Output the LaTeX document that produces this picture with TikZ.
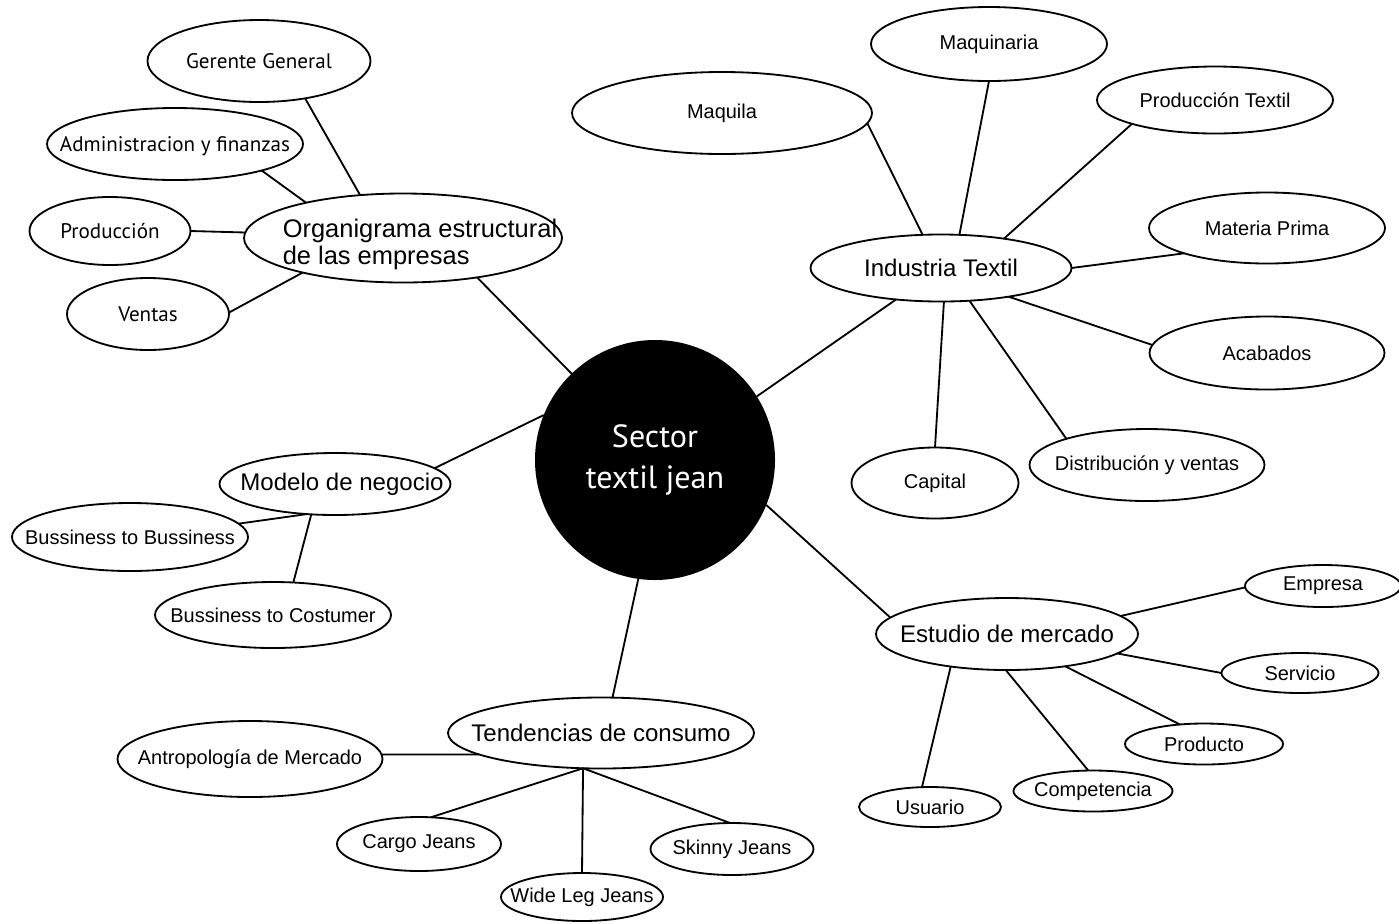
\documentclass[tikz,border=0pt]{standalone}
\usepackage{fontspec}
\setmainfont{Liberation Sans}
\newfontfamily\myriad{PT Sans}
\usepackage{tikz}
\usetikzlibrary{shapes}
\newcommand{\px}{0.025cm}
\tikzstyle{bubble}=[ellipse,draw,line width=1.3pt,outer sep=0pt,inner xsep=-5cm,inner ysep=0pt,font=\fontsize{14.2}{17}\selectfont]
\tikzstyle{topic}=[bubble,font=\fontsize{17.1}{20}\selectfont]
\tikzstyle{myr}=[bubble,text height=1.05em,text depth=0pt,font=\myriad\fontsize{15}{18}\selectfont]
\tikzstyle{core}=[circle,fill=black,text=white,minimum size=240*\px,inner sep=0pt,outer sep=0pt,align=center,font=\myriad\fontsize{22.8}{28.5}\selectfont]
\tikzstyle{link}=[line width=1.3pt]
\tikzset{wh/.style 2 args={minimum width=#1*\px,minimum height=#2*\px}}

\begin{document}
\begin{tikzpicture}
	[x=\px,y=-\px,]
	\useasboundingbox (0,0) rectangle (1399,923);
	\node (hub) [core] at (655,460) {Sector\\textil jean};
	\node (org) [topic,wh={318}{89},label={[shift={(17,6)},align=left,font=\fontsize{18.1}{19.2}\selectfont]center:Organigrama estructural\\de las empresas}] at (403,238) {};
	\node (ger) [myr,wh={223}{82}] at (259,61) {Gerente General};
	\node (adm) [myr,wh={256}{72}] at (175,144) {Administracion y finanzas};
	\node (pro) [myr,wh={161}{68}] at (110,231) {Producción};
	\node (ven) [myr,wh={162}{72}] at (148,314) {Ventas};
	\node (ind) [topic,wh={261}{67}] at (941,268) {Industria Textil};
	\node (maq) [bubble,wh={236}{74}] at (989,44) {Maquinaria};
	\node (mql) [bubble,wh={300}{82}] at (722,113) {Maquila};
	\node (ptx) [bubble,wh={236}{67}] at (1215,100) {Producción Textil};
	\node (mpr) [bubble,wh={236}{71}] at (1267,228) {Materia Prima};
	\node (aca) [bubble,wh={235}{73}] at (1267,353) {Acabados};
	\node (dis) [bubble,wh={235}{72}] at (1147,465) {Distribución y ventas};
	\node (cap) [bubble,wh={167}{71}] at (935,483) {Capital};
	\node (mod) [topic,wh={231}{62},label={[shift={(7,0)},font=\fontsize{17.1}{20}\selectfont]center:Modelo de negocio}] at (335,484) {};
	\node (b2b) [bubble,wh={236}{68}] at (130,537) {Bussiness to Bussiness};
	\node (b2c) [bubble,wh={236}{66}] at (273,615) {Bussiness to Costumer};
	\node (ten) [topic,wh={306}{71}] at (601,733) {Tendencias de consumo};
	\node (ant) [bubble,wh={265}{76}] at (250,759) {Antropología de Mercado};
	\node (cgo) [bubble,wh={164}{54}] at (419,844) {Cargo Jeans};
	\node (wlj) [bubble,wh={162}{48}] at (582,897) {Wide Leg Jeans};
	\node (skn) [bubble,wh={163}{52}] at (732,849) {Skinny Jeans};
	\node (est) [topic,wh={262}{72}] at (1007,634) {Estudio de mercado};
	\node (emp) [bubble,wh={156}{42}] at (1323,586) {Empresa};
	\node (ser) [bubble,wh={157}{40}] at (1300,673) {Servicio};
	\node (prd) [bubble,wh={158}{41}] at (1204,744) {Producto};
	\node (com) [bubble,wh={159}{41}] at (1093,791) {Competencia};
	\node (usu) [bubble,wh={142}{40}] at (930,807) {Usuario};
	\path[link]
		(hub.134) edge (org.-28)
		(hub.32) edge (ind.215)
		(hub.158) edge (mod.9)
		(hub.262) edge (ten.72)
		(hub.-22) edge (est.172)
		(ger.-39) edge (org.135)
		(adm.-17) edge (org.160)
		(pro.0) edge (org.178)
		(ven.1) edge (org.199)
		(mql.-4) edge (ind.119)
		(maq.-90) edge (ind.61)
		(ptx.196) edge (ind.25)
		(mpr.197) edge (ind.0)
		(aca.176) edge (ind.-23)
		(dis.162) edge (ind.-49)
		(cap.90) edge (ind.-85)
		(b2b.7) edge (mod.227)
		(b2c.58) edge (mod.232)
		(ant.2) edge (ten.190)
		(ten.243) edge (cgo.66)
		(ten.243) edge (wlj.90)
		(ten.243) edge (skn.94)
		(est.9) edge (emp.181)
		(est.-10) edge (ser.180)
		(est.-29) edge (prd.141)
		(est.268) edge (com.103)
		(est.210) edge (usu.112);
\end{tikzpicture}
\end{document}
